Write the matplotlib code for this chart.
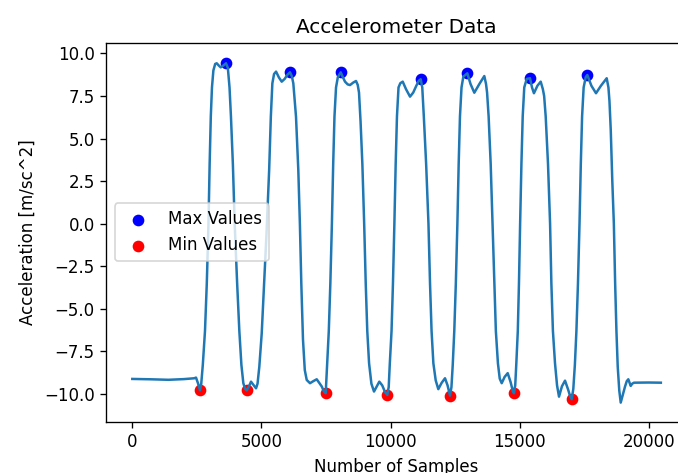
import matplotlib
matplotlib.use("Agg")
import matplotlib.pyplot as plt
from matplotlib.ticker import MultipleLocator

# accelerometer trace
sample_idx = [
    0, 700, 1400, 2000, 2400, 2467, 2550, 2622, 2670,
    2730, 2815, 2885, 2950, 2995, 3040, 3085, 3140, 3210, 3269, 3340, 3424,
    3520, 3629, 3700,
    3765, 3820, 3895, 3965, 4060, 4145, 4225, 4300, 4370, 4431, 4520, 4597,
    4680, 4791, 4850,
    4919, 5012, 5074, 5200, 5300, 5365, 5424, 5490, 5567, 5680, 5786, 5900,
    6010, 6108, 6180,
    6236, 6340, 6429, 6490, 6545, 6610, 6680, 6755, 6882, 7010, 7142, 7240,
    7336, 7420, 7490,
    7540, 7610, 7670, 7730, 7780, 7830, 7890, 7960, 8071, 8150, 8238, 8340,
    8432, 8550, 8664, 8730,
    8780, 8840, 8910, 8980, 9040, 9100, 9170, 9260, 9361, 9460, 9566, 9680,
    9790, 9876, 9930,
    9970, 10040, 10095, 10150, 10200, 10250, 10310, 10380, 10473, 10600,
    10756, 10880, 11000, 11100, 11170,
    11230, 11290, 11380, 11470, 11530, 11590, 11660, 11750, 11851, 11980,
    12111, 12210, 12305, 12360,
    12410, 12470, 12530, 12590, 12640, 12690, 12750, 12820, 12975, 13100,
    13246, 13440, 13633, 13700,
    13740, 13800, 13880, 13950, 14020, 14080, 14160, 14230, 14307, 14420,
    14539, 14650, 14740, 14783, 14830,
    14870, 14930, 14975, 15020, 15070, 15120, 15180, 15275, 15403, 15480,
    15555, 15690, 15817, 15900,
    15950, 16010, 16100, 16180, 16230, 16290, 16371, 16450, 16526, 16640,
    16759, 16880, 16960, 17018, 17080,
    17140, 17200, 17260, 17320, 17370, 17420, 17480, 17560, 17622, 17780,
    17959, 18150, 18373, 18440,
    18480, 18530, 18590, 18650, 18700, 18750, 18800, 18860, 18916, 18990,
    19082, 19150, 19210, 19260, 19303, 19360, 19431, 20000, 20470,
]
accel = [
    -9.12, -9.14, -9.17, -9.13, -9.08, -9.04, -9.40, -9.79, -9.40,
    -8.3, -6.3, -3.5, 0.0, 3.5, 6.3, 8.0, 9.0, 9.38, 9.42, 9.30, 9.18,
    9.28, 9.42, 9.15,
    8.0, 6.3, 3.5, 0.0, -3.5, -6.3, -8.3, -9.37, -9.70, -9.79, -9.55, -9.28,
    -9.45, -9.67, -9.40,
    -8.40, -6.44, -4.48, -0.5, 3.15, 6.28, 8.24, 8.79, 8.93, 8.58, 8.34, 8.50,
    8.75, 8.89, 8.65,
    8.24, 6.28, 3.15, 0.0, -3.5, -6.8, -8.6, -9.18, -9.37, -9.25, -9.14, -9.35,
    -9.56, -9.85, -9.96,
    -8.4, -6.3, -3.5, 0.0, 3.5, 6.3, 8.0, 8.6, 8.89, 8.62, 8.34, 8.18,
    8.14, 8.28, 8.38, 8.15,
    7.7, 6.0, 3.5, 0.0, -3.5, -6.3, -8.2, -9.4, -9.86, -9.58, -9.28, -9.50,
    -9.90, -10.06, -9.6,
    -8.3, -6.3, -3.5, 0.0, 3.5, 6.3, 8.0, 8.25, 8.34, 7.90,
    7.46, 7.70, 8.10, 8.40, 8.48,
    8.0, 6.3, 3.5, 0.0, -3.5, -6.3, -8.2, -9.2, -9.72, -9.35,
    -9.08, -9.50, -10.10, -9.6,
    -8.3, -6.3, -3.5, 0.0, 3.5, 6.3, 8.0, 8.63, 8.83, 8.20,
    7.69, 8.20, 8.67, 8.2,
    7.7, 6.3, 3.5, 0.0, -3.5, -6.3, -8.2, -9.1, -9.37, -9.0,
    -8.78, -9.3, -9.85, -9.96, -9.5,
    -8.3, -6.3, -3.5, 0.0, 3.5, 6.3, 8.0, 8.50, 8.54, 8.0,
    7.66, 8.10, 8.34, 7.9,
    7.5, 6.3, 3.5, 0.0, -3.5, -6.3, -8.2, -9.5, -10.16, -9.55,
    -9.22, -9.75, -10.15, -10.31, -9.7,
    -8.3, -6.3, -3.5, 0.0, 3.5, 6.3, 8.0, 8.6, 8.73, 8.10,
    7.66, 8.10, 8.54, 8.0,
    7.2, 5.5, 2.5, 0.0, -3.5, -6.3, -8.4, -9.8, -10.51, -10.1,
    -9.57, -9.25, -9.14, -9.35, -9.53, -9.40, -9.34, -9.33, -9.34,
]

max_idx = [3629, 6108, 8071, 11170, 12975, 15403, 17622]
max_val = [9.42, 8.89, 8.89, 8.48, 8.83, 8.54, 8.73]
min_idx = [2622, 4431, 7490, 9876, 12305, 14783, 17018]
min_val = [-9.79, -9.79, -9.96, -10.06, -10.10, -9.96, -10.31]

fig = plt.figure(figsize=(678 / 120, 473 / 120), dpi=120)
# axes run a little past the right edge, as in the cropped original
ax = fig.add_axes([0.1568, 0.1085, 0.854, 0.8013])

ax.plot(sample_idx, accel)
ax.scatter(max_idx, max_val, c='blue', label='Max Values')
ax.scatter(min_idx, min_val, c='red', label='Min Values')

ax.set_xlim(-1007, 21418)
ax.set_ylim(-11.63, 10.63)
ax.xaxis.set_major_locator(MultipleLocator(5000))
ax.set_title('Accelerometer Data')
ax.set_xlabel('Number of Samples')
ax.set_ylabel('Acceleration [m/sc^2]')
ax.legend(loc='center left')

fig.savefig('out.png', dpi=120)
